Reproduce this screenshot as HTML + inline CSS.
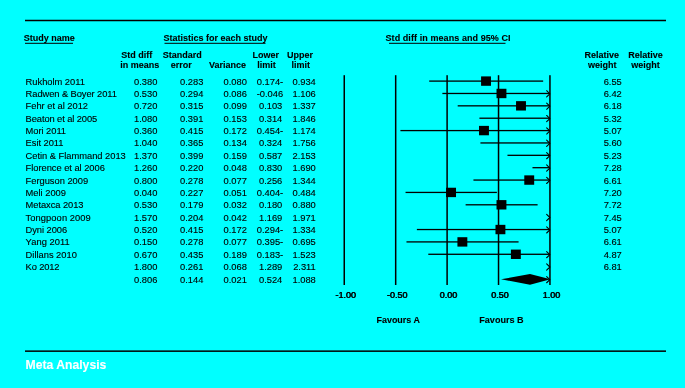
<!DOCTYPE html>
<html><head><meta charset="utf-8"><style>
html,body{margin:0;padding:0;background:#00ffff;}
body{width:685px;height:388px;overflow:hidden;font-family:"Liberation Sans",sans-serif;}
svg{display:block;will-change:transform;}
</style></head><body>
<svg width="685" height="388" viewBox="0 0 685 388">
<rect x="0" y="0" width="685" height="388" fill="#00ffff"/>
<rect x="25" y="19.75" width="641" height="1.5" fill="#000"/>
<rect x="25" y="350.4" width="641" height="1.5" fill="#000"/>
<g font-family="Liberation Sans, sans-serif">
<text x="23.70" y="41.30" font-size="9" font-weight="bold" stroke="#000" stroke-width="0.1" text-anchor="start" fill="#000" >Study name</text>
<text x="163.50" y="41.30" font-size="9" font-weight="bold" stroke="#000" stroke-width="0.1" text-anchor="start" fill="#000" >Statistics for each study</text>
<text x="385.50" y="41.30" font-size="9" font-weight="bold" stroke="#000" stroke-width="0.1" text-anchor="start" fill="#000" textLength="125.1205078125" lengthAdjust="spacing">Std diff in means and 95% CI</text>
<rect x="25" y="42.8" width="48" height="1" fill="#000"/>
<rect x="164.5" y="42.8" width="101.0" height="1" fill="#000"/>
<rect x="389" y="42.8" width="116.5" height="1" fill="#000"/>
<text x="136.80" y="58.30" font-size="9" font-weight="bold" stroke="#000" stroke-width="0.1" text-anchor="middle" fill="#000" >Std diff</text>
<text x="139.70" y="68.30" font-size="9" font-weight="bold" stroke="#000" stroke-width="0.1" text-anchor="middle" fill="#000" >in means</text>
<text x="182.20" y="58.30" font-size="9" font-weight="bold" stroke="#000" stroke-width="0.1" text-anchor="middle" fill="#000" >Standard</text>
<text x="181.30" y="68.30" font-size="9" font-weight="bold" stroke="#000" stroke-width="0.1" text-anchor="middle" fill="#000" >error</text>
<text x="227.55" y="68.30" font-size="9" font-weight="bold" stroke="#000" stroke-width="0.1" text-anchor="middle" fill="#000" >Variance</text>
<text x="265.70" y="58.30" font-size="9" font-weight="bold" stroke="#000" stroke-width="0.1" text-anchor="middle" fill="#000" >Lower</text>
<text x="266.45" y="68.30" font-size="9" font-weight="bold" stroke="#000" stroke-width="0.1" text-anchor="middle" fill="#000" >limit</text>
<text x="299.95" y="58.30" font-size="9" font-weight="bold" stroke="#000" stroke-width="0.1" text-anchor="middle" fill="#000" >Upper</text>
<text x="300.70" y="68.30" font-size="9" font-weight="bold" stroke="#000" stroke-width="0.1" text-anchor="middle" fill="#000" >limit</text>
<text x="601.85" y="58.30" font-size="9" font-weight="bold" stroke="#000" stroke-width="0.1" text-anchor="middle" fill="#000" >Relative</text>
<text x="602.25" y="68.30" font-size="9" font-weight="bold" stroke="#000" stroke-width="0.1" text-anchor="middle" fill="#000" >weight</text>
<text x="645.55" y="58.30" font-size="9" font-weight="bold" stroke="#000" stroke-width="0.1" text-anchor="middle" fill="#000" >Relative</text>
<text x="645.55" y="68.30" font-size="9" font-weight="bold" stroke="#000" stroke-width="0.1" text-anchor="middle" fill="#000" >weight</text>
<text x="25.60" y="84.60" font-size="9.33" stroke="#000" stroke-width="0.12" text-anchor="start" fill="#000" textLength="59.28" lengthAdjust="spacing">Rukholm 2011</text>
<text x="157.40" y="84.60" font-size="9.33" stroke="#000" stroke-width="0.12" text-anchor="end" fill="#000" >0.380</text>
<text x="203.40" y="84.60" font-size="9.33" stroke="#000" stroke-width="0.12" text-anchor="end" fill="#000" >0.283</text>
<text x="246.90" y="84.60" font-size="9.33" stroke="#000" stroke-width="0.12" text-anchor="end" fill="#000" >0.080</text>
<text x="283.20" y="84.60" font-size="9.33" stroke="#000" stroke-width="0.12" text-anchor="end" fill="#000" >0.174-</text>
<text x="315.80" y="84.60" font-size="9.33" stroke="#000" stroke-width="0.12" text-anchor="end" fill="#000" >0.934</text>
<text x="621.80" y="84.60" font-size="9.33" stroke="#000" stroke-width="0.12" text-anchor="end" fill="#000" >6.55</text>
<text x="25.60" y="96.97" font-size="9.33" stroke="#000" stroke-width="0.12" text-anchor="start" fill="#000" textLength="91.30" lengthAdjust="spacing">Radwen &amp; Boyer 2011</text>
<text x="157.40" y="96.97" font-size="9.33" stroke="#000" stroke-width="0.12" text-anchor="end" fill="#000" >0.530</text>
<text x="203.40" y="96.97" font-size="9.33" stroke="#000" stroke-width="0.12" text-anchor="end" fill="#000" >0.294</text>
<text x="246.90" y="96.97" font-size="9.33" stroke="#000" stroke-width="0.12" text-anchor="end" fill="#000" >0.086</text>
<text x="283.20" y="96.97" font-size="9.33" stroke="#000" stroke-width="0.12" text-anchor="end" fill="#000" >-0.046</text>
<text x="315.80" y="96.97" font-size="9.33" stroke="#000" stroke-width="0.12" text-anchor="end" fill="#000" >1.106</text>
<text x="621.80" y="96.97" font-size="9.33" stroke="#000" stroke-width="0.12" text-anchor="end" fill="#000" >6.42</text>
<text x="25.60" y="109.34" font-size="9.33" stroke="#000" stroke-width="0.12" text-anchor="start" fill="#000" textLength="62.43" lengthAdjust="spacing">Fehr et al 2012</text>
<text x="157.40" y="109.34" font-size="9.33" stroke="#000" stroke-width="0.12" text-anchor="end" fill="#000" >0.720</text>
<text x="203.40" y="109.34" font-size="9.33" stroke="#000" stroke-width="0.12" text-anchor="end" fill="#000" >0.315</text>
<text x="246.90" y="109.34" font-size="9.33" stroke="#000" stroke-width="0.12" text-anchor="end" fill="#000" >0.099</text>
<text x="282.30" y="109.34" font-size="9.33" stroke="#000" stroke-width="0.12" text-anchor="end" fill="#000" >0.103</text>
<text x="315.80" y="109.34" font-size="9.33" stroke="#000" stroke-width="0.12" text-anchor="end" fill="#000" >1.337</text>
<text x="621.80" y="109.34" font-size="9.33" stroke="#000" stroke-width="0.12" text-anchor="end" fill="#000" >6.18</text>
<text x="25.60" y="121.71" font-size="9.33" stroke="#000" stroke-width="0.12" text-anchor="start" fill="#000" textLength="71.63" lengthAdjust="spacing">Beaton et al 2005</text>
<text x="157.40" y="121.71" font-size="9.33" stroke="#000" stroke-width="0.12" text-anchor="end" fill="#000" >1.080</text>
<text x="203.40" y="121.71" font-size="9.33" stroke="#000" stroke-width="0.12" text-anchor="end" fill="#000" >0.391</text>
<text x="246.90" y="121.71" font-size="9.33" stroke="#000" stroke-width="0.12" text-anchor="end" fill="#000" >0.153</text>
<text x="282.30" y="121.71" font-size="9.33" stroke="#000" stroke-width="0.12" text-anchor="end" fill="#000" >0.314</text>
<text x="315.80" y="121.71" font-size="9.33" stroke="#000" stroke-width="0.12" text-anchor="end" fill="#000" >1.846</text>
<text x="621.80" y="121.71" font-size="9.33" stroke="#000" stroke-width="0.12" text-anchor="end" fill="#000" >5.32</text>
<text x="25.60" y="134.08" font-size="9.33" stroke="#000" stroke-width="0.12" text-anchor="start" fill="#000" textLength="40.47" lengthAdjust="spacing">Mori 2011</text>
<text x="157.40" y="134.08" font-size="9.33" stroke="#000" stroke-width="0.12" text-anchor="end" fill="#000" >0.360</text>
<text x="203.40" y="134.08" font-size="9.33" stroke="#000" stroke-width="0.12" text-anchor="end" fill="#000" >0.415</text>
<text x="246.90" y="134.08" font-size="9.33" stroke="#000" stroke-width="0.12" text-anchor="end" fill="#000" >0.172</text>
<text x="283.20" y="134.08" font-size="9.33" stroke="#000" stroke-width="0.12" text-anchor="end" fill="#000" >0.454-</text>
<text x="315.80" y="134.08" font-size="9.33" stroke="#000" stroke-width="0.12" text-anchor="end" fill="#000" >1.174</text>
<text x="621.80" y="134.08" font-size="9.33" stroke="#000" stroke-width="0.12" text-anchor="end" fill="#000" >5.07</text>
<text x="25.60" y="146.45" font-size="9.33" stroke="#000" stroke-width="0.12" text-anchor="start" fill="#000" textLength="37.92" lengthAdjust="spacing">Esit 2011</text>
<text x="157.40" y="146.45" font-size="9.33" stroke="#000" stroke-width="0.12" text-anchor="end" fill="#000" >1.040</text>
<text x="203.40" y="146.45" font-size="9.33" stroke="#000" stroke-width="0.12" text-anchor="end" fill="#000" >0.365</text>
<text x="246.90" y="146.45" font-size="9.33" stroke="#000" stroke-width="0.12" text-anchor="end" fill="#000" >0.134</text>
<text x="282.30" y="146.45" font-size="9.33" stroke="#000" stroke-width="0.12" text-anchor="end" fill="#000" >0.324</text>
<text x="315.80" y="146.45" font-size="9.33" stroke="#000" stroke-width="0.12" text-anchor="end" fill="#000" >1.756</text>
<text x="621.80" y="146.45" font-size="9.33" stroke="#000" stroke-width="0.12" text-anchor="end" fill="#000" >5.60</text>
<text x="25.60" y="158.82" font-size="9.33" stroke="#000" stroke-width="0.12" text-anchor="start" fill="#000" textLength="100.17" lengthAdjust="spacing">Cetin &amp; Flammand 2013</text>
<text x="157.40" y="158.82" font-size="9.33" stroke="#000" stroke-width="0.12" text-anchor="end" fill="#000" >1.370</text>
<text x="203.40" y="158.82" font-size="9.33" stroke="#000" stroke-width="0.12" text-anchor="end" fill="#000" >0.399</text>
<text x="246.90" y="158.82" font-size="9.33" stroke="#000" stroke-width="0.12" text-anchor="end" fill="#000" >0.159</text>
<text x="282.30" y="158.82" font-size="9.33" stroke="#000" stroke-width="0.12" text-anchor="end" fill="#000" >0.587</text>
<text x="315.80" y="158.82" font-size="9.33" stroke="#000" stroke-width="0.12" text-anchor="end" fill="#000" >2.153</text>
<text x="621.80" y="158.82" font-size="9.33" stroke="#000" stroke-width="0.12" text-anchor="end" fill="#000" >5.23</text>
<text x="25.60" y="171.19" font-size="9.33" stroke="#000" stroke-width="0.12" text-anchor="start" fill="#000" textLength="79.24" lengthAdjust="spacing">Florence et al 2006</text>
<text x="157.40" y="171.19" font-size="9.33" stroke="#000" stroke-width="0.12" text-anchor="end" fill="#000" >1.260</text>
<text x="203.40" y="171.19" font-size="9.33" stroke="#000" stroke-width="0.12" text-anchor="end" fill="#000" >0.220</text>
<text x="246.90" y="171.19" font-size="9.33" stroke="#000" stroke-width="0.12" text-anchor="end" fill="#000" >0.048</text>
<text x="282.30" y="171.19" font-size="9.33" stroke="#000" stroke-width="0.12" text-anchor="end" fill="#000" >0.830</text>
<text x="315.80" y="171.19" font-size="9.33" stroke="#000" stroke-width="0.12" text-anchor="end" fill="#000" >1.690</text>
<text x="621.80" y="171.19" font-size="9.33" stroke="#000" stroke-width="0.12" text-anchor="end" fill="#000" >7.28</text>
<text x="25.60" y="183.56" font-size="9.33" stroke="#000" stroke-width="0.12" text-anchor="start" fill="#000" textLength="62.51" lengthAdjust="spacing">Ferguson 2009</text>
<text x="157.40" y="183.56" font-size="9.33" stroke="#000" stroke-width="0.12" text-anchor="end" fill="#000" >0.800</text>
<text x="203.40" y="183.56" font-size="9.33" stroke="#000" stroke-width="0.12" text-anchor="end" fill="#000" >0.278</text>
<text x="246.90" y="183.56" font-size="9.33" stroke="#000" stroke-width="0.12" text-anchor="end" fill="#000" >0.077</text>
<text x="282.30" y="183.56" font-size="9.33" stroke="#000" stroke-width="0.12" text-anchor="end" fill="#000" >0.256</text>
<text x="315.80" y="183.56" font-size="9.33" stroke="#000" stroke-width="0.12" text-anchor="end" fill="#000" >1.344</text>
<text x="621.80" y="183.56" font-size="9.33" stroke="#000" stroke-width="0.12" text-anchor="end" fill="#000" >6.61</text>
<text x="25.60" y="195.93" font-size="9.33" stroke="#000" stroke-width="0.12" text-anchor="start" fill="#000" textLength="40.35" lengthAdjust="spacing">Meli 2009</text>
<text x="157.40" y="195.93" font-size="9.33" stroke="#000" stroke-width="0.12" text-anchor="end" fill="#000" >0.040</text>
<text x="203.40" y="195.93" font-size="9.33" stroke="#000" stroke-width="0.12" text-anchor="end" fill="#000" >0.227</text>
<text x="246.90" y="195.93" font-size="9.33" stroke="#000" stroke-width="0.12" text-anchor="end" fill="#000" >0.051</text>
<text x="283.20" y="195.93" font-size="9.33" stroke="#000" stroke-width="0.12" text-anchor="end" fill="#000" >0.404-</text>
<text x="315.80" y="195.93" font-size="9.33" stroke="#000" stroke-width="0.12" text-anchor="end" fill="#000" >0.484</text>
<text x="621.80" y="195.93" font-size="9.33" stroke="#000" stroke-width="0.12" text-anchor="end" fill="#000" >7.20</text>
<text x="25.60" y="208.30" font-size="9.33" stroke="#000" stroke-width="0.12" text-anchor="start" fill="#000" textLength="57.95" lengthAdjust="spacing">Metaxca 2013</text>
<text x="157.40" y="208.30" font-size="9.33" stroke="#000" stroke-width="0.12" text-anchor="end" fill="#000" >0.530</text>
<text x="203.40" y="208.30" font-size="9.33" stroke="#000" stroke-width="0.12" text-anchor="end" fill="#000" >0.179</text>
<text x="246.90" y="208.30" font-size="9.33" stroke="#000" stroke-width="0.12" text-anchor="end" fill="#000" >0.032</text>
<text x="282.30" y="208.30" font-size="9.33" stroke="#000" stroke-width="0.12" text-anchor="end" fill="#000" >0.180</text>
<text x="315.80" y="208.30" font-size="9.33" stroke="#000" stroke-width="0.12" text-anchor="end" fill="#000" >0.880</text>
<text x="621.80" y="208.30" font-size="9.33" stroke="#000" stroke-width="0.12" text-anchor="end" fill="#000" >7.72</text>
<text x="25.60" y="220.67" font-size="9.33" stroke="#000" stroke-width="0.12" text-anchor="start" fill="#000" textLength="65.17" lengthAdjust="spacing">Tongpoon 2009</text>
<text x="157.40" y="220.67" font-size="9.33" stroke="#000" stroke-width="0.12" text-anchor="end" fill="#000" >1.570</text>
<text x="203.40" y="220.67" font-size="9.33" stroke="#000" stroke-width="0.12" text-anchor="end" fill="#000" >0.204</text>
<text x="246.90" y="220.67" font-size="9.33" stroke="#000" stroke-width="0.12" text-anchor="end" fill="#000" >0.042</text>
<text x="282.30" y="220.67" font-size="9.33" stroke="#000" stroke-width="0.12" text-anchor="end" fill="#000" >1.169</text>
<text x="315.80" y="220.67" font-size="9.33" stroke="#000" stroke-width="0.12" text-anchor="end" fill="#000" >1.971</text>
<text x="621.80" y="220.67" font-size="9.33" stroke="#000" stroke-width="0.12" text-anchor="end" fill="#000" >7.45</text>
<text x="25.60" y="233.04" font-size="9.33" stroke="#000" stroke-width="0.12" text-anchor="start" fill="#000" textLength="41.50" lengthAdjust="spacing">Dyni 2006</text>
<text x="157.40" y="233.04" font-size="9.33" stroke="#000" stroke-width="0.12" text-anchor="end" fill="#000" >0.520</text>
<text x="203.40" y="233.04" font-size="9.33" stroke="#000" stroke-width="0.12" text-anchor="end" fill="#000" >0.415</text>
<text x="246.90" y="233.04" font-size="9.33" stroke="#000" stroke-width="0.12" text-anchor="end" fill="#000" >0.172</text>
<text x="283.20" y="233.04" font-size="9.33" stroke="#000" stroke-width="0.12" text-anchor="end" fill="#000" >0.294-</text>
<text x="315.80" y="233.04" font-size="9.33" stroke="#000" stroke-width="0.12" text-anchor="end" fill="#000" >1.334</text>
<text x="621.80" y="233.04" font-size="9.33" stroke="#000" stroke-width="0.12" text-anchor="end" fill="#000" >5.07</text>
<text x="25.60" y="245.41" font-size="9.33" stroke="#000" stroke-width="0.12" text-anchor="start" fill="#000" textLength="44.13" lengthAdjust="spacing">Yang 2011</text>
<text x="157.40" y="245.41" font-size="9.33" stroke="#000" stroke-width="0.12" text-anchor="end" fill="#000" >0.150</text>
<text x="203.40" y="245.41" font-size="9.33" stroke="#000" stroke-width="0.12" text-anchor="end" fill="#000" >0.278</text>
<text x="246.90" y="245.41" font-size="9.33" stroke="#000" stroke-width="0.12" text-anchor="end" fill="#000" >0.077</text>
<text x="283.20" y="245.41" font-size="9.33" stroke="#000" stroke-width="0.12" text-anchor="end" fill="#000" >0.395-</text>
<text x="315.80" y="245.41" font-size="9.33" stroke="#000" stroke-width="0.12" text-anchor="end" fill="#000" >0.695</text>
<text x="621.80" y="245.41" font-size="9.33" stroke="#000" stroke-width="0.12" text-anchor="end" fill="#000" >6.61</text>
<text x="25.60" y="257.78" font-size="9.33" stroke="#000" stroke-width="0.12" text-anchor="start" fill="#000" textLength="51.27" lengthAdjust="spacing">Dillans 2010</text>
<text x="157.40" y="257.78" font-size="9.33" stroke="#000" stroke-width="0.12" text-anchor="end" fill="#000" >0.670</text>
<text x="203.40" y="257.78" font-size="9.33" stroke="#000" stroke-width="0.12" text-anchor="end" fill="#000" >0.435</text>
<text x="246.90" y="257.78" font-size="9.33" stroke="#000" stroke-width="0.12" text-anchor="end" fill="#000" >0.189</text>
<text x="283.20" y="257.78" font-size="9.33" stroke="#000" stroke-width="0.12" text-anchor="end" fill="#000" >0.183-</text>
<text x="315.80" y="257.78" font-size="9.33" stroke="#000" stroke-width="0.12" text-anchor="end" fill="#000" >1.523</text>
<text x="621.80" y="257.78" font-size="9.33" stroke="#000" stroke-width="0.12" text-anchor="end" fill="#000" >4.87</text>
<text x="25.60" y="270.15" font-size="9.33" stroke="#000" stroke-width="0.12" text-anchor="start" fill="#000" textLength="33.97" lengthAdjust="spacing">Ko 2012</text>
<text x="157.40" y="270.15" font-size="9.33" stroke="#000" stroke-width="0.12" text-anchor="end" fill="#000" >1.800</text>
<text x="203.40" y="270.15" font-size="9.33" stroke="#000" stroke-width="0.12" text-anchor="end" fill="#000" >0.261</text>
<text x="246.90" y="270.15" font-size="9.33" stroke="#000" stroke-width="0.12" text-anchor="end" fill="#000" >0.068</text>
<text x="282.30" y="270.15" font-size="9.33" stroke="#000" stroke-width="0.12" text-anchor="end" fill="#000" >1.289</text>
<text x="315.80" y="270.15" font-size="9.33" stroke="#000" stroke-width="0.12" text-anchor="end" fill="#000" >2.311</text>
<text x="621.80" y="270.15" font-size="9.33" stroke="#000" stroke-width="0.12" text-anchor="end" fill="#000" >6.81</text>
<text x="157.40" y="282.52" font-size="9.33" stroke="#000" stroke-width="0.12" text-anchor="end" fill="#000" >0.806</text>
<text x="203.40" y="282.52" font-size="9.33" stroke="#000" stroke-width="0.12" text-anchor="end" fill="#000" >0.144</text>
<text x="246.90" y="282.52" font-size="9.33" stroke="#000" stroke-width="0.12" text-anchor="end" fill="#000" >0.021</text>
<text x="282.30" y="282.52" font-size="9.33" stroke="#000" stroke-width="0.12" text-anchor="end" fill="#000" >0.524</text>
<text x="315.80" y="282.52" font-size="9.33" stroke="#000" stroke-width="0.12" text-anchor="end" fill="#000" >1.088</text>
<text x="345.50" y="298.00" font-size="9" text-anchor="middle" fill="#000" stroke="#000" stroke-width="0.1">-1.00</text>
<text x="346.00" y="298.00" font-size="9" text-anchor="middle" fill="#000" stroke="#000" stroke-width="0.1">-1.00</text>
<text x="396.93" y="298.00" font-size="9" text-anchor="middle" fill="#000" stroke="#000" stroke-width="0.1">-0.50</text>
<text x="397.43" y="298.00" font-size="9" text-anchor="middle" fill="#000" stroke="#000" stroke-width="0.1">-0.50</text>
<text x="448.35" y="298.00" font-size="9" text-anchor="middle" fill="#000" stroke="#000" stroke-width="0.1">0.00</text>
<text x="448.85" y="298.00" font-size="9" text-anchor="middle" fill="#000" stroke="#000" stroke-width="0.1">0.00</text>
<text x="499.78" y="298.00" font-size="9" text-anchor="middle" fill="#000" stroke="#000" stroke-width="0.1">0.50</text>
<text x="500.28" y="298.00" font-size="9" text-anchor="middle" fill="#000" stroke="#000" stroke-width="0.1">0.50</text>
<text x="551.20" y="298.00" font-size="9" text-anchor="middle" fill="#000" stroke="#000" stroke-width="0.1">1.00</text>
<text x="551.70" y="298.00" font-size="9" text-anchor="middle" fill="#000" stroke="#000" stroke-width="0.1">1.00</text>
<text x="376.54" y="323.30" font-size="9.33" font-weight="bold" stroke="#000" stroke-width="0.1" text-anchor="start" fill="#000" textLength="43.306916743259855" lengthAdjust="spacingAndGlyphs">Favours A</text>
<text x="479.26" y="323.30" font-size="9.33" font-weight="bold" stroke="#000" stroke-width="0.1" text-anchor="start" fill="#000" textLength="44.41985791973029" lengthAdjust="spacingAndGlyphs">Favours B</text>
<text x="25.50" y="369.40" font-size="12.2" font-weight="bold" stroke="#fff" stroke-width="0.1" text-anchor="start" fill="#fff" >Meta Analysis</text>
</g>
<rect x="343.50" y="75.2" width="1.5" height="209.8" fill="#000"/>
<rect x="394.93" y="75.2" width="1.5" height="209.8" fill="#000"/>
<rect x="446.35" y="75.2" width="1.5" height="209.8" fill="#000"/>
<rect x="497.78" y="75.2" width="1.5" height="209.8" fill="#000"/>
<rect x="549.20" y="75.2" width="1.5" height="209.8" fill="#000"/>
<rect x="429.20" y="80.45" width="113.96" height="1.3" fill="#000"/>
<rect x="481.08" y="76.40" width="9.9" height="9.4" fill="#000"/>
<rect x="442.37" y="92.82" width="107.58" height="1.3" fill="#000"/>
<path d="M546.65,90.72 L549.85,93.82 L546.65,96.92" fill="none" stroke="#000" stroke-width="1.1" stroke-linecap="round" stroke-linejoin="round"/>
<rect x="496.51" y="88.77" width="9.9" height="9.4" fill="#000"/>
<rect x="457.69" y="105.19" width="92.26" height="1.3" fill="#000"/>
<path d="M546.65,103.09 L549.85,106.19 L546.65,109.29" fill="none" stroke="#000" stroke-width="1.1" stroke-linecap="round" stroke-linejoin="round"/>
<rect x="516.05" y="101.14" width="9.9" height="9.4" fill="#000"/>
<rect x="479.39" y="117.56" width="70.56" height="1.3" fill="#000"/>
<path d="M546.65,115.46 L549.85,118.56 L546.65,121.66" fill="none" stroke="#000" stroke-width="1.1" stroke-linecap="round" stroke-linejoin="round"/>
<rect x="400.41" y="129.93" width="149.54" height="1.3" fill="#000"/>
<path d="M546.65,127.83 L549.85,130.93 L546.65,134.03" fill="none" stroke="#000" stroke-width="1.1" stroke-linecap="round" stroke-linejoin="round"/>
<rect x="479.03" y="125.88" width="9.9" height="9.4" fill="#000"/>
<rect x="480.42" y="142.30" width="69.53" height="1.3" fill="#000"/>
<path d="M546.65,140.20 L549.85,143.30 L546.65,146.40" fill="none" stroke="#000" stroke-width="1.1" stroke-linecap="round" stroke-linejoin="round"/>
<rect x="507.47" y="154.67" width="42.48" height="1.3" fill="#000"/>
<path d="M546.65,152.57 L549.85,155.67 L546.65,158.77" fill="none" stroke="#000" stroke-width="1.1" stroke-linecap="round" stroke-linejoin="round"/>
<rect x="532.47" y="167.04" width="17.48" height="1.3" fill="#000"/>
<path d="M546.65,164.94 L549.85,168.04 L546.65,171.14" fill="none" stroke="#000" stroke-width="1.1" stroke-linecap="round" stroke-linejoin="round"/>
<rect x="473.43" y="179.41" width="76.52" height="1.3" fill="#000"/>
<path d="M546.65,177.31 L549.85,180.41 L546.65,183.51" fill="none" stroke="#000" stroke-width="1.1" stroke-linecap="round" stroke-linejoin="round"/>
<rect x="524.28" y="175.36" width="9.9" height="9.4" fill="#000"/>
<rect x="405.55" y="191.78" width="91.33" height="1.3" fill="#000"/>
<rect x="446.11" y="187.73" width="9.9" height="9.4" fill="#000"/>
<rect x="465.61" y="204.15" width="72.00" height="1.3" fill="#000"/>
<rect x="496.51" y="200.10" width="9.9" height="9.4" fill="#000"/>
<path d="M546.65,214.42 L549.85,217.52 L546.65,220.62" fill="none" stroke="#000" stroke-width="1.1" stroke-linecap="round" stroke-linejoin="round"/>
<rect x="416.86" y="228.89" width="133.09" height="1.3" fill="#000"/>
<path d="M546.65,226.79 L549.85,229.89 L546.65,232.99" fill="none" stroke="#000" stroke-width="1.1" stroke-linecap="round" stroke-linejoin="round"/>
<rect x="495.48" y="224.84" width="9.9" height="9.4" fill="#000"/>
<rect x="406.47" y="241.26" width="112.11" height="1.3" fill="#000"/>
<rect x="457.43" y="237.21" width="9.9" height="9.4" fill="#000"/>
<rect x="428.28" y="253.63" width="121.67" height="1.3" fill="#000"/>
<path d="M546.65,251.53 L549.85,254.63 L546.65,257.73" fill="none" stroke="#000" stroke-width="1.1" stroke-linecap="round" stroke-linejoin="round"/>
<rect x="510.91" y="249.58" width="9.9" height="9.4" fill="#000"/>
<path d="M546.65,263.90 L549.85,267.00 L546.65,270.10" fill="none" stroke="#000" stroke-width="1.1" stroke-linecap="round" stroke-linejoin="round"/>
<path d="M500.99,279.32 L530.00,273.92 L550.45,279.32 L530.00,284.72 Z" fill="#000"/>
<path d="M546.65,276.57 L549.85,279.67 L546.65,282.77" fill="none" stroke="#000" stroke-width="1.1" stroke-linecap="round" stroke-linejoin="round"/>
</svg>
</body></html>
